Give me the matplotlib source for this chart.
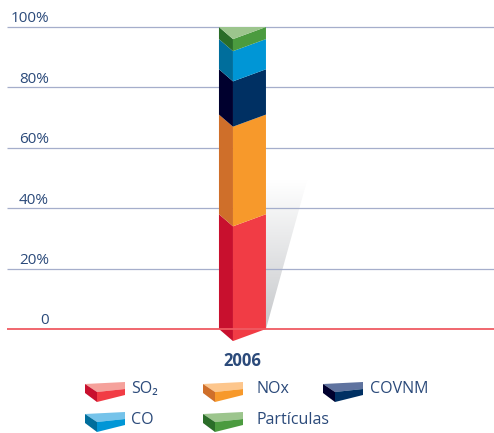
import matplotlib
matplotlib.use('Agg')
import matplotlib.pyplot as plt
import numpy as np
from matplotlib.patches import Polygon
from matplotlib.transforms import blended_transform_factory
from matplotlib.colors import LinearSegmentedColormap

# ---------------- data ----------------
categories = ['2006']
series = ['SO₂', 'NOx', 'COVNM', 'CO', 'Partículas']
values = [38, 33, 15, 10, 4]
yticks = [0, 20, 40, 60, 80, 100]
ytick_labels = ['0', '20%', '40%', '60%', '80%', '100%']

front_colors = ['#f13c45', '#f7992b', '#003063', '#0096d6', '#4b9b3f']
side_colors = ['#c8102e', '#cf6f2a', '#00002e', '#006e9c', '#2b6d29']
top_colors = ['#f5a19b', '#fdc68c', '#5f739f', '#75c3ea', '#9cc58d']

text_color = '#2b4a7a'
grid_color = '#a5aecb'
base_color = '#ef5a62'

plt.rcParams['font.family'] = ['Open Sans', 'DejaVu Sans']

W, H = 494, 433
fig = plt.figure(figsize=(W / 100, H / 100), dpi=100)
ax = fig.add_axes([7 / W, (H - 345) / H, 487 / W, 335 / H])
xlim = (-0.967, 1.033)
ylim = (-5.3, 105.63)

for s in ax.spines.values():
    s.set_visible(False)
ax.set_yticks([])
ax.set_xticks(range(len(categories)))
ax.set_xticklabels(categories, fontsize=12, fontweight='bold', color=text_color)
ax.tick_params(axis='x', length=0, pad=5)

# gridlines
ax.hlines(yticks[1:], xlim[0], xlim[1], colors=grid_color, lw=0.9, zorder=1)
ax.hlines([0], xlim[0], xlim[1], colors=base_color, lw=1.3, zorder=4)

# y labels above gridlines
bt = blended_transform_factory(ax.transAxes, ax.transData)
for v, lab in zip(yticks, ytick_labels):
    ax.text(0.0862, v + 1.5, lab, transform=bt, ha='right', va='baseline',
            fontsize=11, color=text_color)

# 3D-style stacked bar
half = 0.0965
side_w = 0.0575
depth = 4.0
for ci, cat in enumerate(categories):
    left = ci - half
    inner = left + side_w
    right = ci + half
    bottom = 0.0
    for i, v in enumerate(values):
        lo, hi = bottom, bottom + v
        ax.add_patch(Polygon([(left, lo), (inner, lo - depth), (inner, hi - depth), (left, hi)],
                             closed=True, fc=side_colors[i], ec='none', zorder=3))
        ax.add_patch(Polygon([(inner, lo - depth), (right, lo), (right, hi), (inner, hi - depth)],
                             closed=True, fc=front_colors[i], ec='none', zorder=3))
        bottom = hi
    ax.add_patch(Polygon([(left, bottom), (right, bottom), (inner, bottom - depth)],
                         closed=True, fc=top_colors[-1], ec='none', zorder=3))

    # shadow behind bar
    sh_top = bottom * 0.493
    sh_w = 0.169
    cmap = LinearSegmentedColormap.from_list('sh', ['#c6c8cb', '#ffffff'])
    grad = np.linspace(0, 1, 200).reshape(-1, 1)
    im = ax.imshow(grad, extent=[right, right + sh_w, 0, sh_top], origin='lower',
                   cmap=cmap, aspect='auto', zorder=0.5, interpolation='bilinear')
    clip = Polygon([(right, 0), (right + sh_w, sh_top), (right, sh_top)],
                   closed=True, transform=ax.transData)
    im.set_clip_path(clip)

ax.set_xlim(*xlim)
ax.set_ylim(*ylim)

# legend (manual layout)
def fx(x):
    return x / W

def fy(y):
    return 1 - y / H

icon_pos = [(85, 382), (203, 382), (323, 382), (85, 412), (203, 412)]
text_pos = [(131, 389), (256, 389), (370, 389), (131, 420), (256, 420)]
for i, name in enumerate(series):
    x0, y0 = icon_pos[i]
    top = [(0, 2), (40, 0), (40, 7), (12, 10)]
    front = [(12, 10), (40, 7), (40, 13), (12, 20)]
    side = [(0, 2), (12, 10), (12, 20), (0, 11)]
    for pts, col in ((top, top_colors[i]), (front, front_colors[i]), (side, side_colors[i])):
        fig.patches.append(Polygon([(fx(x0 + px), fy(y0 + py)) for px, py in pts], closed=True,
                                   fc=col, ec='none', transform=fig.transFigure, figure=fig))
    tx, ty = text_pos[i]
    fig.text(fx(tx), fy(ty), name, ha='left', va='center', fontsize=11.5, color=text_color)

fig.savefig('out.png', dpi=100)
